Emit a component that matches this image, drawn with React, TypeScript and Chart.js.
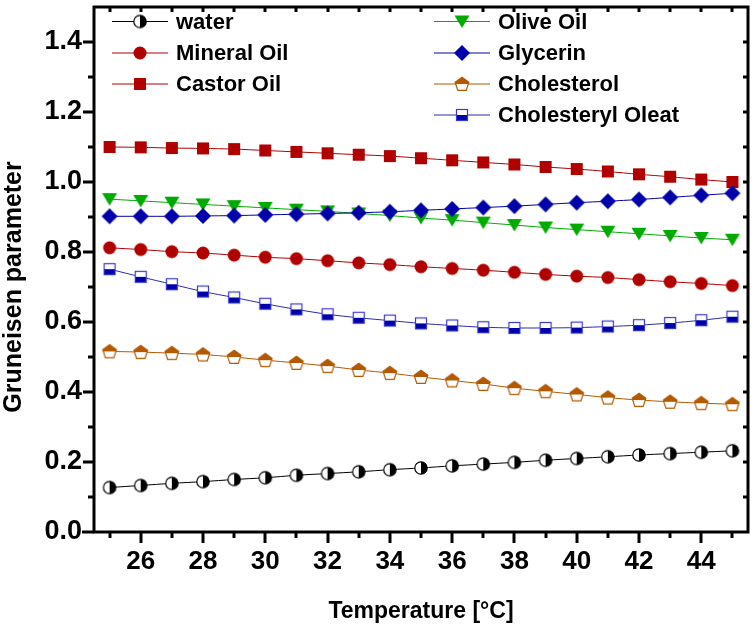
import React, { useEffect, useRef } from 'react';
import { Chart, registerables } from 'chart.js';

Chart.register(...registerables);

// ---------- data ----------
const temperatures = [25, 26, 27, 28, 29, 30, 31, 32, 33, 34, 35, 36, 37, 38, 39, 40, 41, 42, 43, 44, 45];
const water = [0.127, 0.133, 0.139, 0.144, 0.150, 0.155, 0.162, 0.167, 0.172, 0.178, 0.183, 0.189, 0.194, 0.199, 0.205, 0.210, 0.215, 0.220, 0.224, 0.228, 0.232];
const mineralOil = [0.812, 0.807, 0.801, 0.797, 0.791, 0.785, 0.781, 0.775, 0.769, 0.764, 0.758, 0.753, 0.748, 0.742, 0.736, 0.731, 0.727, 0.721, 0.715, 0.710, 0.704];
const castorOil = [1.100, 1.099, 1.097, 1.096, 1.094, 1.090, 1.086, 1.082, 1.078, 1.074, 1.068, 1.062, 1.056, 1.050, 1.043, 1.037, 1.030, 1.022, 1.015, 1.007, 1.000];
const oliveOil = [0.951, 0.946, 0.941, 0.936, 0.931, 0.926, 0.921, 0.916, 0.910, 0.904, 0.897, 0.891, 0.884, 0.877, 0.870, 0.864, 0.858, 0.852, 0.846, 0.840, 0.835];
const glycerin = [0.902, 0.902, 0.902, 0.903, 0.904, 0.906, 0.908, 0.910, 0.912, 0.915, 0.919, 0.923, 0.927, 0.931, 0.936, 0.941, 0.945, 0.950, 0.956, 0.962, 0.968];
const cholesterol = [0.516, 0.514, 0.511, 0.507, 0.500, 0.491, 0.483, 0.474, 0.463, 0.454, 0.443, 0.433, 0.423, 0.411, 0.402, 0.393, 0.384, 0.377, 0.372, 0.368, 0.365];
const cholesterylOleat = [0.751, 0.729, 0.708, 0.687, 0.670, 0.652, 0.636, 0.622, 0.612, 0.604, 0.596, 0.590, 0.585, 0.583, 0.583, 0.584, 0.587, 0.591, 0.597, 0.605, 0.615];

const seriesLabels = ['water', 'Mineral Oil', 'Castor Oil', 'Olive Oil', 'Glycerin', 'Cholesterol', 'Cholesteryl Oleat'];
const xTickLabels = [26, 28, 30, 32, 34, 36, 38, 40, 42, 44];
const yTickLabels = [0, 0.2, 0.4, 0.6, 0.8, 1.0, 1.2, 1.4];
const xAxisTitle = 'Temperature [\u00B0C]';
const yAxisTitle = 'Gruneisen parameter';

// ---------- styles ----------
const RED = '#b00000';
const GREEN = '#00aa00';
const BLUE = '#0000aa';
const BROWN = '#b35900';
const OLEAT_LINE = '#2a2ab4';
const FONT = '"Liberation Sans", Arial, sans-serif';

function mk(draw: (c: CanvasRenderingContext2D, m: number) => void, size = 18) {
  const cv = document.createElement('canvas');
  cv.width = size;
  cv.height = size;
  const c = cv.getContext('2d') as CanvasRenderingContext2D;
  draw(c, size / 2);
  return cv;
}

function buildMarkers() {
  const waterM = mk((c, m) => {
    const r = 6.2;
    c.beginPath(); c.arc(m, m, r, Math.PI / 2, Math.PI * 1.5); c.closePath(); c.fillStyle = '#fff'; c.fill();
    c.beginPath(); c.arc(m, m, r, -Math.PI / 2, Math.PI / 2); c.closePath(); c.fillStyle = '#000'; c.fill();
    c.beginPath(); c.arc(m, m, r, 0, Math.PI * 2); c.lineWidth = 1.2; c.strokeStyle = '#000'; c.stroke();
  });
  const circleM = mk((c, m) => {
    c.beginPath(); c.arc(m, m, 6.5, 0, Math.PI * 2); c.fillStyle = RED; c.fill();
  });
  const squareM = mk((c, m) => {
    c.fillStyle = RED; c.fillRect(m - 6, m - 6, 12, 12);
  });
  const triM = mk((c, m) => {
    c.beginPath(); c.moveTo(m - 7.5, m - 6); c.lineTo(m + 7.5, m - 6); c.lineTo(m, m + 6.5); c.closePath();
    c.fillStyle = GREEN; c.fill();
  });
  const diamondM = mk((c, m) => {
    c.beginPath(); c.moveTo(m, m - 8); c.lineTo(m + 8, m); c.lineTo(m, m + 8); c.lineTo(m - 8, m); c.closePath();
    c.fillStyle = BLUE; c.fill();
  });
  const pentM = mk((c, m) => {
    const r = 7.2;
    const path = () => {
      c.beginPath();
      for (let k = 0; k < 5; k++) {
        const a = -Math.PI / 2 + (k * 2 * Math.PI) / 5;
        const px = m + r * Math.cos(a);
        const py = m + 0.5 + r * Math.sin(a);
        if (k === 0) c.moveTo(px, py); else c.lineTo(px, py);
      }
      c.closePath();
    };
    path(); c.fillStyle = '#fff'; c.fill();
    c.save(); c.beginPath(); c.rect(0, 0, m * 2, m); c.clip(); path(); c.fillStyle = BROWN; c.fill(); c.restore();
    path(); c.lineWidth = 1.2; c.strokeStyle = BROWN; c.stroke();
  });
  const halfSqM = mk((c, m) => {
    c.fillStyle = '#fff'; c.fillRect(m - 5.5, m - 5.5, 11, 11);
    c.fillStyle = BLUE; c.fillRect(m - 5.5, m, 11, 5.5);
    c.lineWidth = 1.2; c.strokeStyle = '#3a3acc'; c.strokeRect(m - 5.5, m - 5.5, 11, 11);
  });
  return [waterM, circleM, squareM, triM, diamondM, pentM, halfSqM];
}

export default function App() {
  const ref = useRef<HTMLCanvasElement>(null);

  useEffect(() => {
    const canvas = ref.current as HTMLCanvasElement;
    const markers = buildMarkers();
    const values = [water, mineralOil, castorOil, oliveOil, glycerin, cholesterol, cholesterylOleat];
    const lineColors = ['#000000', RED, RED, GREEN, BLUE, BROWN, OLEAT_LINE];

    const datasets = values.map((vals, i) => ({
      label: seriesLabels[i],
      data: temperatures.map((t, j) => ({ x: t, y: vals[j] })),
      borderColor: lineColors[i],
      backgroundColor: lineColors[i],
      borderWidth: 1,
      pointStyle: markers[i],
      pointRadius: 6,
      tension: 0.3,
      order: 10 - i,
    }));

    const legendLayout = [
      { col: 0, row: 0 }, { col: 0, row: 1 }, { col: 0, row: 2 },
      { col: 1, row: 0 }, { col: 1, row: 1 }, { col: 1, row: 2 }, { col: 1, row: 3 },
    ];
    const colX = [112, 434];
    const rowY = [21.5, 53, 84, 115];

    const framePlugin = {
      id: 'frameTicks',
      afterDatasetsDraw(chart: any) {
        const { ctx, chartArea: a, scales } = chart;
        const xs = scales.x;
        const ys = scales.y;
        ctx.save();
        ctx.strokeStyle = '#000';
        ctx.lineWidth = 3;
        ctx.lineCap = 'butt';
        for (let t = 25; t <= 45; t++) {
          const px = Math.round(xs.getPixelForValue(t));
          const major = t % 2 === 0;
          ctx.beginPath();
          ctx.moveTo(px, a.bottom);
          ctx.lineTo(px, a.bottom + (major ? 11 : 6));
          ctx.stroke();
          ctx.beginPath();
          ctx.moveTo(px, a.top);
          ctx.lineTo(px, a.top + 5);
          ctx.stroke();
        }
        for (let k = 1; k < 15; k++) {
          const v = k / 10;
          const py = Math.round(ys.getPixelForValue(v));
          const major = k % 2 === 0;
          ctx.beginPath();
          ctx.moveTo(a.left, py);
          ctx.lineTo(a.left - (major ? 11 : 6), py);
          ctx.stroke();
          ctx.beginPath();
          ctx.moveTo(a.right, py);
          ctx.lineTo(a.right - 5, py);
          ctx.stroke();
        }
        ctx.beginPath();
        ctx.moveTo(a.left - 12, a.bottom);
        ctx.lineTo(a.left, a.bottom);
        ctx.stroke();
        ctx.strokeRect(a.left, a.top, a.right - a.left, a.bottom - a.top);

        // y-axis title
        ctx.save();
        ctx.translate(14, 287);
        ctx.rotate(-Math.PI / 2);
        ctx.font = 'bold 25px ' + FONT;
        ctx.fillStyle = '#000';
        ctx.textAlign = 'center';
        ctx.textBaseline = 'middle';
        ctx.fillText(yAxisTitle, 0, 0);
        ctx.restore();

        // legend
        chart.data.datasets.forEach((ds: any, i: number) => {
          const L = legendLayout[i];
          const x0 = colX[L.col];
          const y0 = rowY[L.row];
          ctx.beginPath();
          ctx.lineWidth = 1;
          ctx.strokeStyle = ds.borderColor;
          ctx.moveTo(x0, y0);
          ctx.lineTo(x0 + 56, y0);
          ctx.stroke();
          const img = ds.pointStyle as HTMLCanvasElement;
          ctx.drawImage(img, x0 + 28 - img.width / 2, y0 - img.height / 2);
          ctx.font = 'bold 22px ' + FONT;
          ctx.fillStyle = '#000';
          ctx.textAlign = 'left';
          ctx.textBaseline = 'middle';
          ctx.fillText(ds.label, x0 + 64, y0 + 1);
        });
        ctx.restore();
      },
    };

    const chart = new Chart(canvas, {
      type: 'line',
      data: { datasets: datasets as any },
      options: {
        responsive: false,
        animation: false,
        devicePixelRatio: 1,
        layout: { padding: { left: 0, top: 4, right: 5, bottom: 0 } },
        plugins: { legend: { display: false }, tooltip: { enabled: false } },
        scales: {
          x: {
            type: 'linear',
            min: 24.5,
            max: 45.5,
            afterBuildTicks: (s: any) => { s.ticks = xTickLabels.map((v) => ({ value: v })); },
            afterFit: (s: any) => { s.height = 97; s.paddingLeft = 0; s.paddingRight = 0; },
            grid: { display: false, drawTicks: false },
            border: { display: false },
            ticks: {
              color: '#000',
              padding: 14,
              maxRotation: 0,
              autoSkip: false,
              font: { family: FONT, size: 26, weight: 'bold' },
              callback: (v: any) => String(v),
            },
            title: {
              display: true,
              text: xAxisTitle,
              color: '#000',
              font: { family: FONT, size: 23, weight: 'bold' },
              padding: { top: 0, bottom: 4 },
            },
          },
          y: {
            type: 'linear',
            min: 0,
            max: 1.5,
            afterBuildTicks: (s: any) => { s.ticks = yTickLabels.map((v) => ({ value: v })); },
            afterFit: (s: any) => { s.width = 94; s.paddingTop = 0; s.paddingBottom = 0; },
            grid: { display: false, drawTicks: false },
            border: { display: false },
            ticks: {
              color: '#000',
              padding: 12,
              autoSkip: false,
              font: { family: FONT, size: 27, weight: 'bold' },
              callback: (v: any) => Number(v).toFixed(1),
            },
          },
        },
      } as any,
      plugins: [framePlugin],
    });
    return () => chart.destroy();
  }, []);

  return (
    <div style={{ position: 'absolute', left: 0, top: 0, width: 755, height: 629, background: '#fff' }}>
      <canvas ref={ref} width={755} height={629} style={{ display: 'block', width: 755, height: 629 }} />
    </div>
  );
}
